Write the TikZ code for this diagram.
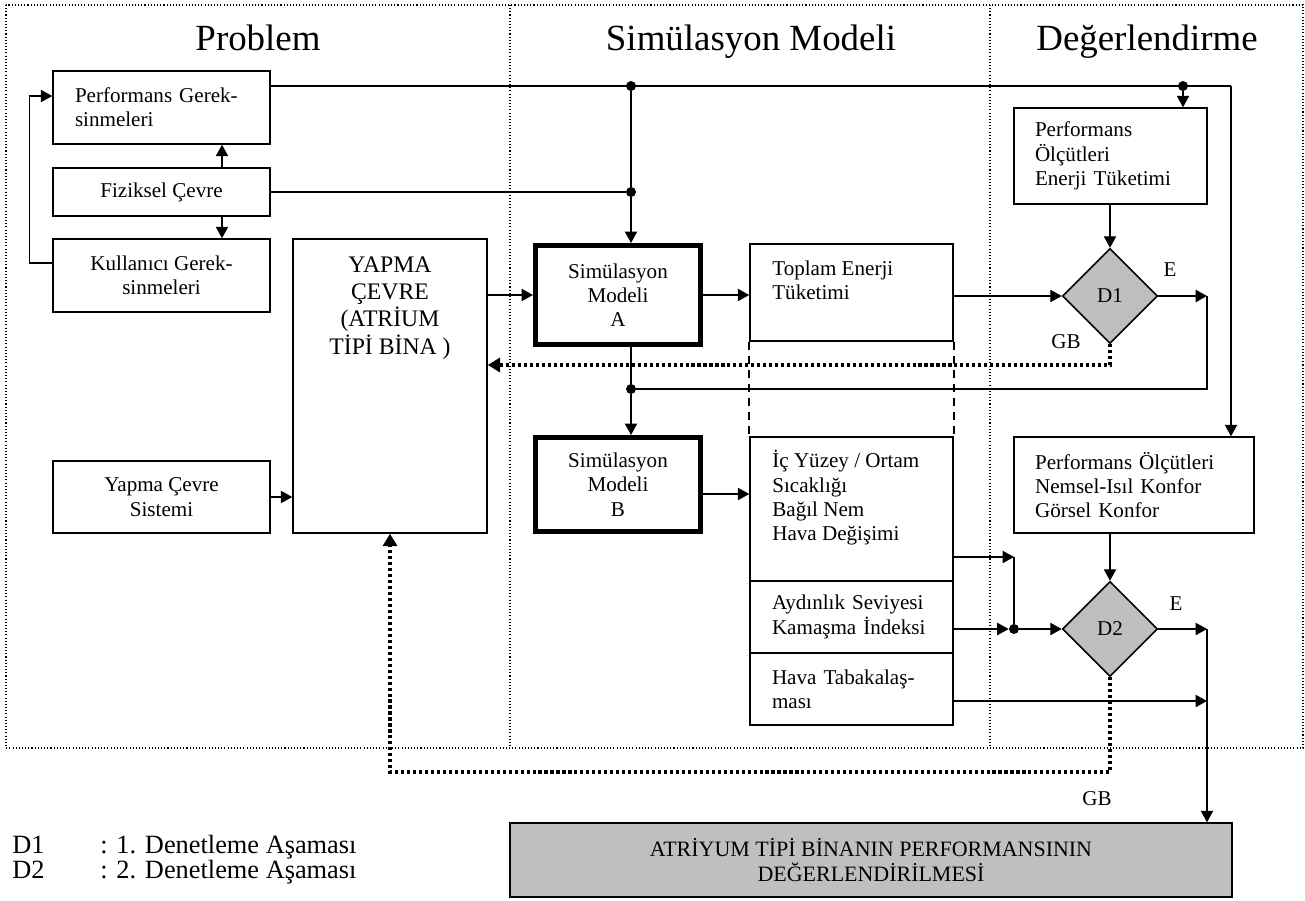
\documentclass[tikz,border=0pt]{standalone}
\usepackage{fontspec}
\setmainfont{Liberation Serif}
\usetikzlibrary{arrows.meta,shapes.geometric,positioning}

\begin{document}
\begin{tikzpicture}[x=0.02cm,y=-0.02cm,
    every node/.style={font=\fontsize{12}{13.8}\selectfont},
    box/.style={draw,line width=0.9pt,inner sep=0pt,align=center,minimum width=4.34cm},
    lbox/.style={draw,line width=0.9pt,inner ysep=0pt,align=left},
    simbox/.style={draw,line width=2.6pt,inner sep=0pt,align=center,minimum width=3.31cm},
    karar/.style={diamond,draw,line width=0.9pt,fill=gray!50,minimum size=1.9cm,inner sep=0pt},
    dot/.style={circle,fill,inner sep=0pt,minimum size=0.2cm},
    ln/.style={line width=0.7pt},
    arr/.style={line width=0.7pt,-{Triangle[length=6.5pt,width=7pt]}},
    geri/.style={line width=1.8pt,dash pattern=on 1.8pt off 1.6pt,-{Triangle[length=7pt,width=8pt]}},
    kesik/.style={line width=1.1pt,dash pattern=on 4.5pt off 3.5pt},
    cerceve/.style={line width=0.6pt,dash pattern=on 0.6pt off 1.2pt},
    baslik/.style={font=\fontsize{21}{25}\selectfont}]

  \useasboundingbox (0,0) rectangle (1305,900);

  \draw[cerceve] (6,5) rectangle (1303,748);
  \draw[cerceve] (510,5) -- (510,748);
  \draw[cerceve] (990,5) -- (990,748);

  \node[baslik,anchor=base] (t1) at (258,50) {Problem};
  \node[baslik,anchor=base] (t2) at (751,50) {Simülasyon Modeli};
  \node[baslik,anchor=base] (t3) at (1147,50) {Değerlendirme};

  % problem
  \node[lbox,text width=3.46cm,inner xsep=0.44cm,minimum height=1.46cm] (perfger) at (161.5,107.5) {Performans Gerek-\\sinmeleri};
  \node[box,minimum height=0.96cm] (fiz) at (161.5,192) {Fiziksel Çevre};
  \node[box,minimum height=1.46cm] (kul) at (161.5,275.5) {Kullanıcı Gerek-\\sinmeleri};
  \node[box,minimum height=1.44cm] (sys) at (161.5,497) {Yapma Çevre\\Sistemi};
  \node[box,minimum width=3.88cm,minimum height=5.88cm] (yapma) at (390,386) {};
  \node[anchor=north,align=center,inner sep=0pt,font=\fontsize{13.5}{15.6}\selectfont] (yapmatxt) at (390,256) {YAPMA\\ÇEVRE\\(ATRİUM\\TİPİ BİNA )};

  % simulasyon
  \node[simbox,minimum height=1.99cm] (simA) at (618,295) {Simülasyon\\Modeli\\A};
  \node[simbox,minimum height=1.89cm] (simB) at (618,484.5) {Simülasyon\\Modeli\\B};
  \node[box,minimum width=4.06cm,minimum height=1.94cm] (toplam) at (851.5,292.5) {};
  \node[anchor=north west,align=left,inner sep=0pt] (toplamtxt) at (772,260.5) {Toplam Enerji\\Tüketimi};
  \node[box,minimum width=4.06cm,minimum height=2.88cm] (icy) at (851.5,509) {};
  \node[anchor=north west,align=left,inner sep=0pt] (icytxt) at (772,450) {İç Yüzey / Ortam\\Sıcaklığı\\Bağıl Nem\\Hava Değişimi};
  \node[lbox,text width=3.18cm,inner xsep=0.44cm,minimum height=1.44cm] (ayd) at (851.5,617) {Aydınlık Seviyesi\\Kamaşma İndeksi};
  \node[lbox,text width=3.18cm,inner xsep=0.44cm,minimum height=1.44cm] (hava) at (851.5,689) {Hava Tabakalaş-\\ması};

  % degerlendirme
  \node[lbox,text width=3.02cm,inner xsep=0.42cm,minimum height=1.92cm] (pe) at (1110.5,156) {Performans\\Ölçütleri\\Enerji Tüketimi};
  \node[lbox,text width=3.96cm,inner xsep=0.42cm,minimum height=1.92cm] (pn) at (1134,485) {Performans Ölçütleri\\Nemsel-Isıl Konfor\\Görsel Konfor};
  \node[karar] (d1) at (1110,296) {D1};
  \node[karar] (d2) at (1110,629) {D2};
  \node[box,fill=gray!50,minimum width=14.44cm,minimum height=1.48cm,font=\fontsize{12.5}{14.7}\selectfont] (sonuc) at (871,860) {ATRİYUM TİPİ BİNANIN PERFORMANSININ\\DEĞERLENDİRİLMESİ};

  \node (e1lbl) at (1170,270) {E};
  \node (gb1lbl) at (1066,342) {GB};
  \node (e2lbl) at (1176,604) {E};
  \node (gb2lbl) at (1097,799) {GB};

  \begin{scope}[every node/.style={anchor=base west,inner sep=0pt,font=\fontsize{15}{17}\selectfont}]
    \node (lD1) at (12,853) {D1};
    \node (lD1t) at (100,853) {: 1. Denetleme Aşaması};
    \node (lD2) at (12,878) {D2};
    \node (lD2t) at (100,878) {: 2. Denetleme Aşaması};
  \end{scope}

  \coordinate (c1) at (1231,86);
  \coordinate (e1) at (1207,296);
  \coordinate (e2) at (1207,629);
  \coordinate (k1) at (1014,557);
  \coordinate (g1) at (1110,365);
  \coordinate (g2) at (1110,772);
  \node[dot] (j1) at (631,86) {};
  \node[dot] (j2) at (1183,86) {};
  \node[dot] (j3) at (631,192) {};
  \node[dot] (j4) at (631,389) {};
  \node[dot] (j5) at (1014,629) {};

  \draw[ln] (perfger.east |- j1) -- (c1);
  \draw[arr] (c1) -- (c1 |- pn.north);
  \draw[arr] (j2) -- (j2 |- pe.north);
  \draw[ln] (fiz.east) -- (j3);
  \draw[ln] (j1) -- (j3);
  \draw[arr] (j3) -- (j3 |- simA.north);
  \draw[arr] ([xshift=1.21cm]fiz.north) -- ([xshift=1.21cm]perfger.south);
  \draw[arr] ([xshift=1.21cm]fiz.south) -- ([xshift=1.21cm]kul.north);
  \draw[arr] ([yshift=0.25cm]kul.west) -- ++(-23,0) |- ([yshift=0.23cm]perfger.west);
  \draw[arr] (sys.east) -- (sys.east -| yapma.west);

  \draw[arr] (yapma.east |- simA.west) -- (simA.west);
  \draw[arr] (simA.east) -- (simA.east -| toplam.west);
  \draw[arr] (toplam.east |- d1.west) -- (d1.west);
  \draw[arr] (pe.south -| d1.north) -- (d1.north);
  \draw[arr] (d1.east) -- (e1);
  \draw[ln] (e1) |- (j4);
  \draw[ln] (j4 |- simA.south) -- (j4);
  \draw[arr] (j4) -- (j4 |- simB.north);
  \draw[kesik] (toplam.south west) -- (icy.north west);
  \draw[kesik] (toplam.south east) -- (icy.north east);

  \draw[arr] ([yshift=-0.19cm]simB.east) -- ([yshift=-0.19cm]simB.east -| icy.west);
  \draw[arr] (icy.east |- k1) -- (k1);
  \draw[ln] (k1) -- (j5);
  \draw[arr] (ayd.east |- j5) -- (j5);
  \draw[arr] (j5) -- (d2.west);
  \draw[arr] (d2.north |- pn.south) -- (d2.north);
  \draw[arr] (d2.east) -- (e2);
  \draw[arr] (e2) -- (e2 |- sonuc.north);
  \draw[arr] ([yshift=-0.24cm]hava.east) -- ([yshift=-0.24cm]hava.east -| e2);

  \draw[geri] (d1.south) -- (g1) -- (g1 -| yapma.east);
  \draw[geri] (d2.south) -- (g2) -| (yapma.south);

\end{tikzpicture}
\end{document}
